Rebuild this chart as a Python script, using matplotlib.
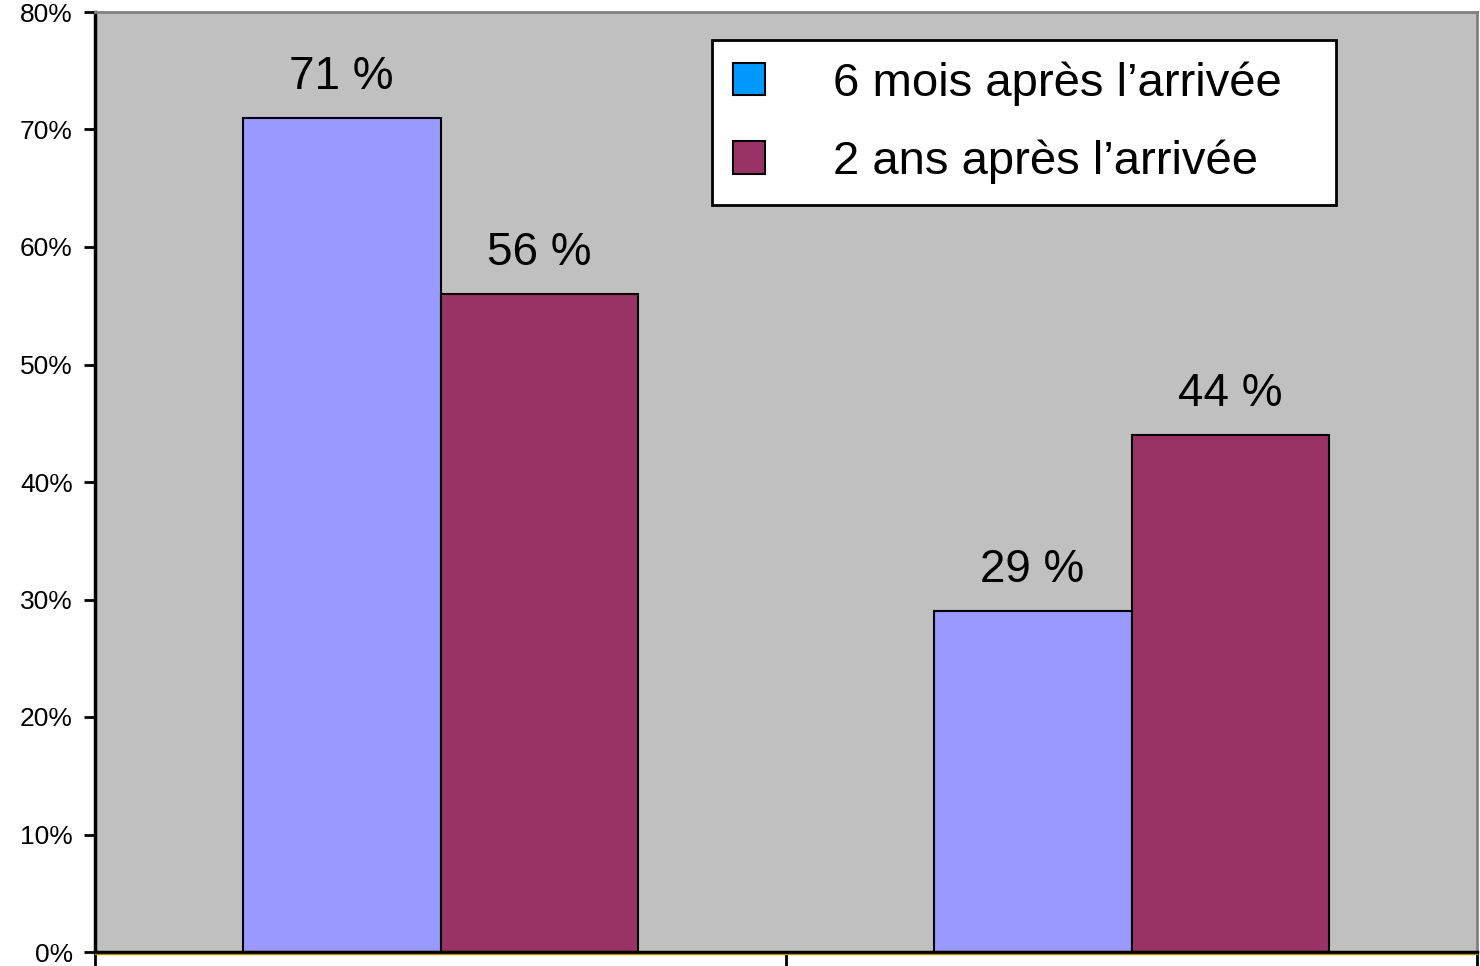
import numpy as np
import matplotlib.pyplot as plt
import matplotlib.transforms as mtransforms
from matplotlib.patches import Patch

plt.rcParams['font.family'] = ['Liberation Sans', 'DejaVu Sans']

# data
groups = ["A", "B"]
six_mois = [0.71, 0.29]
deux_ans = [0.56, 0.44]
labels_six = ["71 %", "29 %"]
labels_deux = ["56 %", "44 %"]
series_names = ["6 mois après l\u2019arrivée", "2 ans après l\u2019arrivée"]

fig = plt.figure(figsize=(14.8, 9.66), dpi=100)
ax = fig.add_axes([95/1480, 1-952/966, (1477-95)/1480, (952-12)/966])
ax.set_facecolor('#C0C0C0')

x = np.arange(len(groups))
w = 0.2865
b1 = ax.bar(x - w/2, six_mois, w, color='#9999FF', edgecolor='black', linewidth=1.5)
b2 = ax.bar(x + w/2, deux_ans, w, color='#993366', edgecolor='black', linewidth=1.5)

# value labels above bars
for rect, lab in zip(b1, labels_six):
    ax.text(rect.get_x() + rect.get_width()/2, rect.get_height() + 0.016, lab,
            ha='center', va='bottom', fontsize=33)
for rect, lab in zip(b2, labels_deux):
    ax.text(rect.get_x() + rect.get_width()/2, rect.get_height() + 0.016, lab,
            ha='center', va='bottom', fontsize=33)

ax.set_xlim(-0.5, 1.5)
ax.set_ylim(0, 0.8)
yt = np.arange(0, 0.81, 0.1)
ax.set_yticks(yt)
ax.set_yticklabels([f"{int(round(v*100))}%" for v in yt], fontsize=19)
ax.set_xticks([-0.5, 0.5, 1.5])
ax.set_xticklabels([])
ax.tick_params(axis='y', length=8, width=2, pad=8)
ax.tick_params(axis='x', length=14, width=2, direction='out')
ax.yaxis.get_major_ticks()[0].tick1line.set_color('#CC9900')

for s in ['left', 'bottom']:
    ax.spines[s].set_linewidth(2.5)
    ax.spines[s].set_color('black')
for s in ['top', 'right']:
    ax.spines[s].set_linewidth(2)
    ax.spines[s].set_color('#808080')

# thin gold line just under the bottom axis
gold_tr = mtransforms.offset_copy(ax.get_xaxis_transform(), fig=fig, x=0, y=-1.6, units='dots')
ax.plot([0, 1], [0, 0], color='#B08800', lw=1, transform=mtransforms.blended_transform_factory(ax.transAxes, gold_tr),
        clip_on=False, zorder=3)

handles = [Patch(facecolor='#0099FF', edgecolor='black', linewidth=1.5),
           Patch(facecolor='#993366', edgecolor='black', linewidth=1.5)]
leg = ax.legend(handles, series_names, loc='upper left', mode='expand',
                bbox_to_anchor=(712/1480, 1-199/966, 624/1480, 159/966),
                bbox_transform=fig.transFigure,
                fontsize=34, frameon=True, fancybox=False, framealpha=1,
                edgecolor='black', borderaxespad=0, borderpad=0.45,
                handlelength=0.68, handleheight=0.68, handletextpad=1.43,
                labelspacing=0.72)
leg.get_frame().set_linewidth(2)

fig.savefig('out.png', dpi=100)
